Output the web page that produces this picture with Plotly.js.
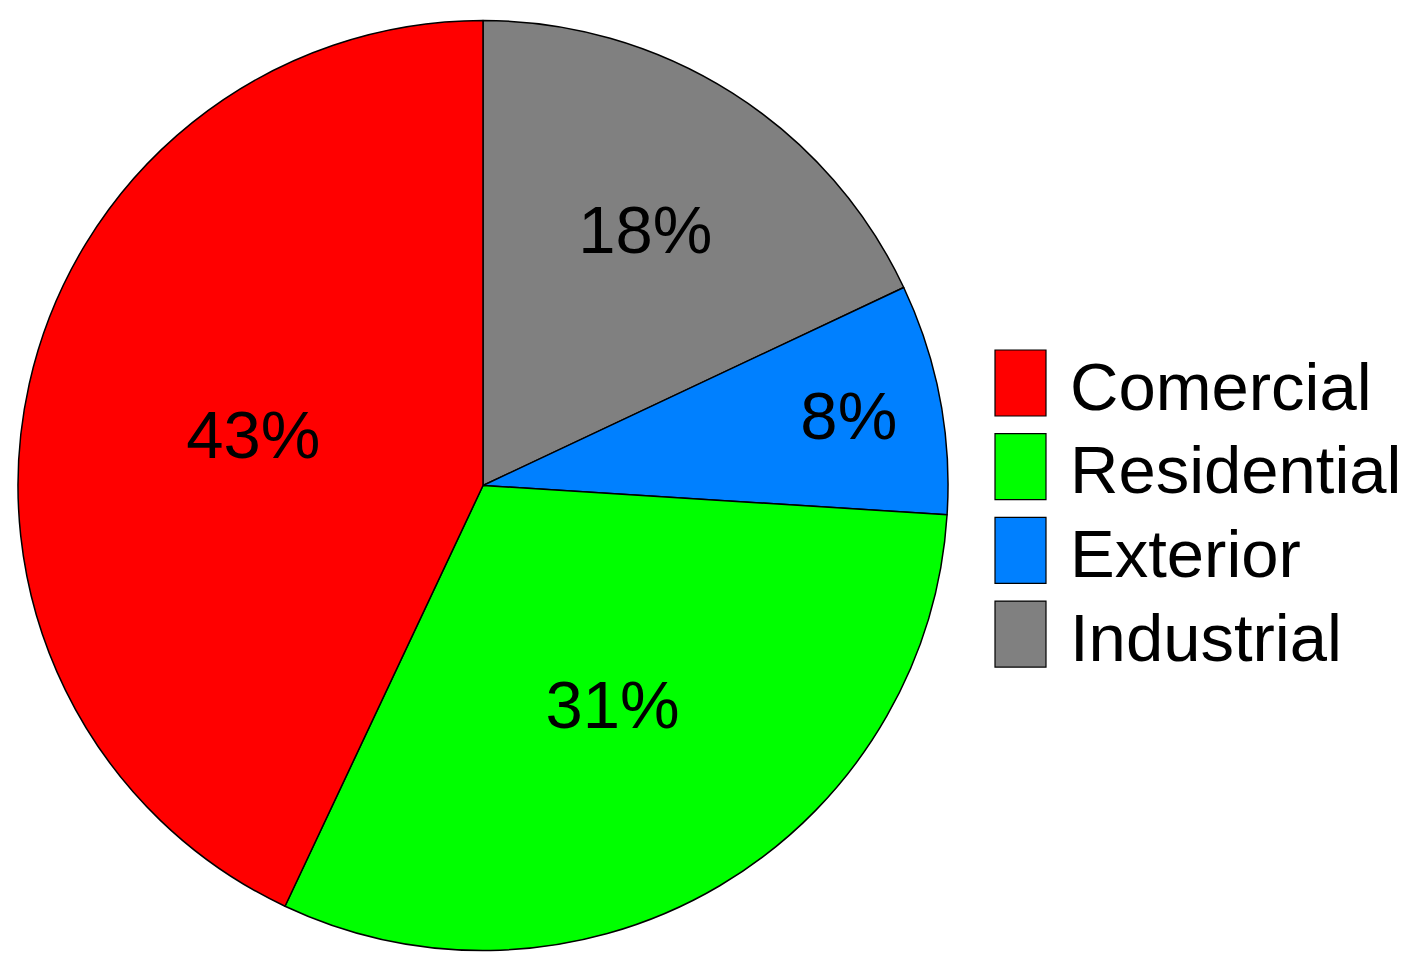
<!DOCTYPE html>
<html>
<head>
<meta charset="utf-8">
<script src="https://cdn.plot.ly/plotly-3.0.1.min.js"></script>
<style>html,body{margin:0;padding:0;background:#fff;}#chart{width:1412px;height:977px;}</style>
</head>
<body>
<div id="chart"></div>
<script>
const categories = ["Comercial", "Residential", "Exterior", "Industrial"];
const values = [43, 31, 8, 18];
const colors = ["#ff0000", "#00ff00", "#0080ff", "#808080"];

const W = 1412, H = 977;
const FONT = "Liberation Sans, Arial, sans-serif";

// Reference lays slices counterclockwise from 12 o'clock in category order;
// reversed order drawn clockwise gives the same arrangement.
const trace = {
  type: "pie",
  labels: categories.slice().reverse(),
  values: values.slice().reverse(),
  sort: false,
  direction: "clockwise",
  rotation: 0,
  marker: {colors: colors.slice().reverse(), line: {color: "#000000", width: 1.5}},
  textinfo: "percent",
  texttemplate: "%{percent:.0%}",
  textposition: "inside",
  insidetextorientation: "horizontal",
  insidetextfont: {family: FONT, size: 67, color: "#000000"},
  domain: {x: [18 / W, 948 / W], y: [1 - 951 / H, 1 - 20 / H]},
  showlegend: false,
  hoverinfo: "label+percent"
};

// Custom legend (large swatches like the reference)
const shapes = [];
const annotations = [];
const boxX0 = 995, boxX1 = 1046, boxTop0 = 350, boxH = 66, step = 83.7;
categories.forEach((c, i) => {
  const top = boxTop0 + i * step;
  shapes.push({
    type: "rect", xref: "paper", yref: "paper",
    x0: boxX0 / W, x1: boxX1 / W,
    y0: 1 - (top + boxH) / H, y1: 1 - top / H,
    fillcolor: colors[i], line: {color: "#000000", width: 1.2}
  });
  annotations.push({
    xref: "paper", yref: "paper",
    x: 1068 / W, y: 1 - (top + boxH / 2 + 3) / H,
    xanchor: "left", yanchor: "middle",
    text: c, showarrow: false,
    font: {family: FONT, size: 67, color: "#000000"}
  });
});

const layout = {
  width: W, height: H,
  margin: {l: 0, r: 0, t: 0, b: 0},
  paper_bgcolor: "#ffffff",
  showlegend: false,
  shapes: shapes,
  annotations: annotations
};

Plotly.newPlot("chart", [trace], layout, {displayModeBar: false, staticPlot: true});
</script>
</body>
</html>
